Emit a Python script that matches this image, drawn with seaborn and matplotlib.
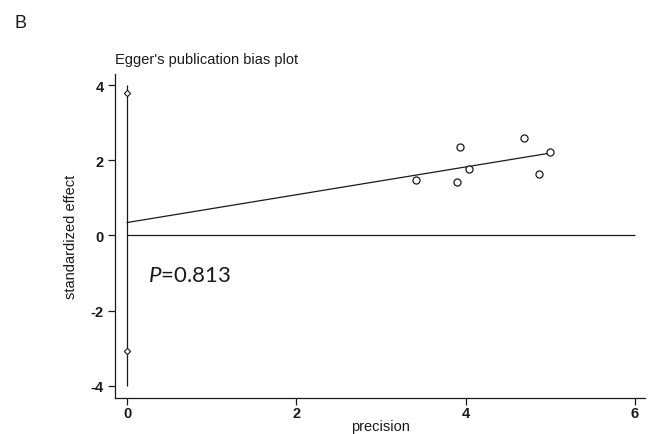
import numpy as np
import pandas as pd
import matplotlib
matplotlib.use("Agg")
import matplotlib.pyplot as plt
import seaborn as sns

# Study-level Egger data: precision (1/SE) and standardized effect (effect/SE)
precision = [3.41, 3.93, 3.90, 4.04, 4.69, 4.87, 5.00]
std_effect = [1.47, 2.36, 1.42, 1.76, 2.60, 1.63, 2.21]

# 95% confidence limits of the Egger intercept
intercept_ci = [-3.07, 3.79]
p_value = "0.813"

x_ticks = [0, 2, 4, 6]
y_ticks = [-4, -2, 0, 2, 4]

sns.set_theme(style="ticks")
plt.rcParams["font.family"] = ["Liberation Sans", "DejaVu Sans"]
plt.rcParams["axes.unicode_minus"] = False
plt.rcParams["mathtext.fontset"] = "custom"
plt.rcParams["mathtext.it"] = "Lato:italic"
plt.rcParams["mathtext.rm"] = "Lato"

df = pd.DataFrame({"precision": precision, "std_effect": std_effect})

fig = plt.figure(figsize=(6.59, 4.35), dpi=100)
ax = fig.add_axes([0.1745, 0.0828, 0.8045, 0.7448])

lw = 0.9
ink = "#1a1a1a"

# vertical reference line at zero precision with the intercept CI markers
ax.vlines(0, min(y_ticks), max(y_ticks), color=ink, lw=lw, zorder=2)
ax.plot([0, 0], intercept_ci, ls="none", marker="D", ms=3.2,
        mfc="white", mec=ink, mew=0.8, zorder=3)

# horizontal zero line
ax.hlines(0, 0, max(x_ticks), color=ink, lw=lw, zorder=2)

# Egger regression of standardized effect on precision
slope, intercept = np.polyfit(df["precision"], df["std_effect"], 1)
fit = pd.DataFrame({"precision": [0, df["precision"].max()]})
fit["fitted"] = intercept + slope * fit["precision"]
sns.lineplot(data=fit, x="precision", y="fitted", ax=ax, color=ink, lw=lw,
             zorder=2)

sns.scatterplot(data=df, x="precision", y="std_effect", ax=ax, marker="o",
                s=26, facecolor="white", edgecolor=ink, linewidth=0.9,
                zorder=4)

ax.set_xlim(-0.142, 6.12)
ax.set_ylim(-4.33, 4.3)
ax.set_xticks(x_ticks)
ax.set_yticks(y_ticks)
ax.tick_params(axis="both", length=5, width=0.9, color=ink, labelsize=10.5,
               pad=3, labelcolor=ink)
ax.tick_params(axis="x", pad=1)
for lab in ax.get_xticklabels() + ax.get_yticklabels():
    lab.set_fontweight("bold")

sns.despine(ax=ax)
for side in ("left", "bottom"):
    ax.spines[side].set_linewidth(0.9)
    ax.spines[side].set_color(ink)

ax.set_xlabel("precision", fontsize=10.5, color=ink, labelpad=-1)
ax.set_ylabel("standardized effect", fontsize=10.5, color=ink, labelpad=9)
ax.set_title("Egger's publication bias plot", fontsize=10.5, color=ink,
             loc="left", pad=8)

ax.text(0.25, -1.05, r"$P$=" + p_value, fontsize=16, family="Lato",
        color=ink, va="center", ha="left")

fig.text(15 / 659, 1 - 23 / 435, "B", fontsize=13, color=ink, va="center",
         ha="left")

fig.savefig("out.png", dpi=100)
